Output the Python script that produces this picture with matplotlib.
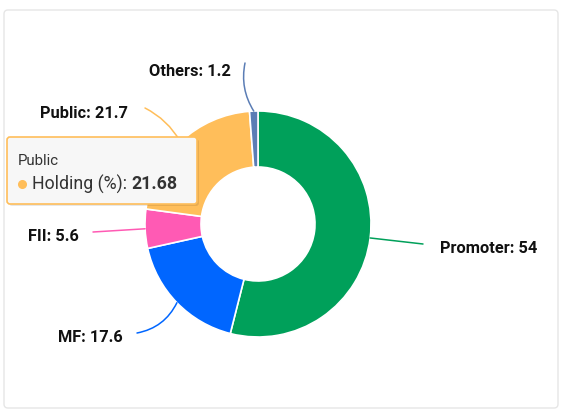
import numpy as np
import matplotlib
matplotlib.use("Agg")
import matplotlib.pyplot as plt
from matplotlib.patches import FancyBboxPatch

categories = ["Promoter", "MF", "FII", "Public", "Others"]
values = [54, 17.6, 5.6, 21.7, 1.2]
tooltip_value = 21.68
colors = ["#00A05A", "#0066FF", "#FF5AB4", "#FFBE5A", "#5B7DB5"]

W, H = 568, 417
fig = plt.figure(figsize=(W / 100, H / 100), dpi=100)
ax = fig.add_axes([0, 0, 1, 1])
ax.set_xlim(0, W)
ax.set_ylim(0, H)
ax.set_aspect("equal")
ax.axis("off")

# card border
card = FancyBboxPatch((4, H - 408), 554, 398, boxstyle="round,pad=0,rounding_size=4",
                      fc="white", ec="#e6e6e6", lw=1)
ax.add_patch(card)

cx, cy = 258, H - 224
R = 113
ax.pie(values, colors=colors, startangle=90, counterclock=False, center=(cx, cy),
       radius=R, wedgeprops=dict(width=56, edgecolor="white", linewidth=1.2),
       frame=True)
ax.set_xlim(0, W)
ax.set_ylim(0, H)
ax.axis("off")

# label layout (pixel positions of text anchor, connector end, ha, curvature)
layout = {
    "Promoter": ((440, 248), (423, 244), "left", 0.0),
    "MF": ((123, 337), (137, 333), "right", 0.25),
    "FII": ((79, 236), (93, 232), "right", 0.0),
    "Public": ((128, 113), (145, 108), "right", -0.15),
    "Others": ((231, 71), (245, 63), "right", 0.2),
}
total = sum(values)
cum = 0
for cat, v, c in zip(categories, values, colors):
    mid = (cum + v / 2) / total * 360
    cum += v
    ang = np.deg2rad(90 - mid)
    sx, sy = cx + R * np.cos(ang), cy + R * np.sin(ang)
    (tx, ty), (ex, ey), ha, rad = layout[cat]
    ax.annotate("", xy=(sx, sy), xytext=(ex, H - ey),
                arrowprops=dict(arrowstyle="-", color=c, lw=1.1,
                                connectionstyle=f"arc3,rad={rad}",
                                shrinkA=0, shrinkB=0))
    lab = f"{cat}: {v:g}"
    ax.text(tx, H - ty, lab, ha=ha, va="center", fontsize=11.8, fontweight="bold",
            family="Roboto", color="#111111")

# tooltip
tip = FancyBboxPatch((7, H - 204), 190, 67, boxstyle="round,pad=0,rounding_size=3",
                     fc="#f7f7f7", ec=colors[3], lw=1.2, zorder=5)
shadow = FancyBboxPatch((9, H - 206), 190, 67, boxstyle="round,pad=0,rounding_size=3",
                        fc="#00000018", ec="none", zorder=4)
ax.add_patch(shadow)
ax.add_patch(tip)
ax.text(18, H - 161, categories[3], fontsize=10.8, family="Roboto", color="#333333",
        va="center", zorder=6)
ax.plot([22], [H - 184], "o", color=colors[3], ms=5.5, zorder=6)
t1 = ax.text(32, H - 184, "Holding (%): ", fontsize=12.8, family="Roboto",
             color="#333333", va="center", zorder=6)
fig.canvas.draw()
bb = t1.get_window_extent()
x_end = ax.transData.inverted().transform((bb.x1, bb.y0))[0]
ax.text(x_end, H - 184, f"{tooltip_value:.2f}", fontsize=12.8, family="Roboto",
        fontweight="bold", color="#333333", va="center", zorder=6)

fig.savefig("out.png", dpi=100)
